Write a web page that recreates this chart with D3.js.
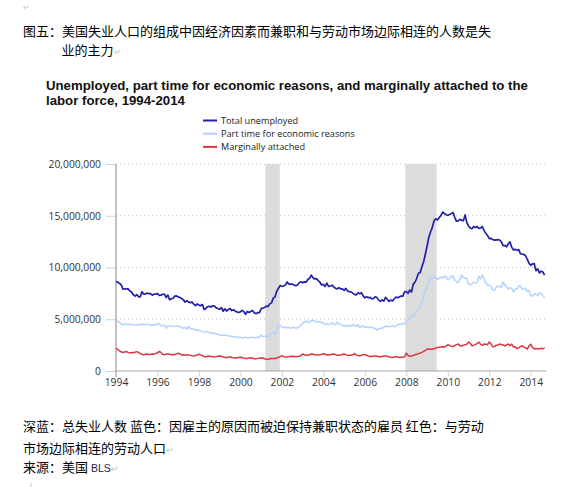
<!DOCTYPE html>
<html><head><meta charset="utf-8">
<script src="https://cdn.jsdelivr.net/npm/d3@7"></script>
<style>
html,body{margin:0;padding:0;background:#fff;}
svg{display:block;}
</style></head>
<body>
<svg id="c" width="571" height="487"></svg>
<script>
// ---------- DATA (monthly, Jan 1994 – Sep 2014, thousands of persons) ----------
const startYear = 1994;
const totalUnemployed = [
 8630,8583,8470,8331,7915,7927,7946,7933,7734,7632,7375,7230, // 1994
 7375,7187,7153,7645,7430,7427,7527,7484,7478,7328,7426,7423, // 1995
 7491,7313,7318,7415,7423,7095,7337,6882,6979,7031,7236,7253, // 1996
 7158,7102,7000,6873,6655,6799,6655,6608,6656,6454,6308,6476, // 1997
 6368,6306,6422,5941,6047,6212,6259,6179,6300,6280,6100,6032, // 1998
 5976,6111,5783,6004,5796,5951,6025,5838,5915,5778,5716,5653, // 1999
 5708,5858,5733,5481,5758,5651,5747,5853,5625,5534,5639,5634, // 2000
 6023,6089,6141,6271,6226,6484,6583,7042,7142,7694,8003,8258, // 2001
 8182,8215,8304,8599,8399,8393,8390,8304,8251,8307,8520,8640, // 2002
 8520,8618,8588,8842,8957,9266,9011,8896,8921,8732,8576,8317, // 2003
 8370,8167,8491,8170,8212,8286,8136,7990,7927,8061,7932,7934, // 2004
 7784,7980,7737,7672,7651,7524,7406,7345,7553,7453,7566,7279, // 2005
 7064,7184,7072,7120,6980,7001,7175,7091,6847,6727,6872,6762, // 2006
 7116,6927,6731,6850,6766,6979,7149,7067,7170,7237,7240,7645, // 2007
 7685,7497,7822,7637,8395,8575,8937,9438,9494,10074,10538,11286, // 2008
 12058,12898,13426,13853,14499,14707,14601,14814,15009,15352,15219,15098, // 2009
 15046,15113,15202,15325,14849,14474,14512,14648,14579,14516,15081,14348, // 2010
 14013,13820,13737,13957,13855,13962,13763,13818,13948,13594,13302,13093, // 2011
 12797,12813,12713,12646,12660,12692,12656,12471,12115,12124,12005,12298, // 2012
 12471,11950,11689,11760,11654,11751,11335,11279,11270,11136,10787,10404, // 2013
 10202,10349,10380,9702,9859,9474,9648,9568,9262                         // 2014
];
const partTimeEconomic = [
 4935,4810,4700,4540,4470,4560,4520,4480,4550,4500,4480,4470, // 1994
 4430,4500,4520,4490,4510,4470,4530,4490,4430,4470,4420,4490, // 1995
 4510,4560,4410,4370,4420,4120,4380,4360,4330,4330,4290,4340, // 1996
 4360,4280,4170,4130,4220,4040,4330,4080,4110,4010,3950,3960, // 1997
 3920,3900,3830,3780,3780,3800,3720,3660,3640,3660,3560,3560, // 1998
 3460,3430,3470,3450,3470,3380,3390,3360,3290,3320,3280,3240, // 1999
 3270,3220,3220,3250,3220,3200,3270,3240,3220,3200,3280,3240, // 2000
 3470,3330,3360,3360,3340,3480,3620,3760,3560,3990,4440,4420, // 2001
 4250,4200,4230,4190,4200,4170,4160,4250,4110,4190,4250,4400, // 2002
 4620,4720,4810,4760,4690,4870,4900,4820,4740,4790,4770,4680, // 2003
 4640,4500,4580,4520,4480,4680,4510,4470,4730,4510,4520,4390, // 2004
 4340,4380,4300,4430,4320,4470,4380,4310,4500,4210,4280,4340, // 2005
 4200,4270,4180,4260,4200,4150,4120,3950,4100,4090,4150,4200, // 2006
 4340,4290,4300,4310,4370,4280,4350,4460,4550,4480,4600,4560, // 2007
 4850,4900,5180,5200,5270,5450,5800,5900,6150,6700,7280,7870, // 2008
 7900,8550,9080,8950,9050,9030,8860,8940,9080,9000,9150,9100, // 2009
 8800,8940,9160,9180,8800,8640,8520,8860,9300,9040,8950,8950, // 2010
 8400,8330,8430,8570,8530,8560,9150,8910,9270,8890,8530,8250, // 2011
 8330,8190,7830,7800,8110,8190,8180,8080,8610,8290,8150,7920, // 2012
 8050,7980,7640,7920,7920,8190,8220,7910,7920,8010,7690,7770, // 2013
 7280,7250,7410,7460,7270,7540,7510,7280,7100                 // 2014
];
const marginallyAttached = [
 2190,2080,1950,1860,1780,1830,1880,1800,1750,1780,1760,1820, // 1994
 1870,1800,1690,1610,1560,1620,1640,1600,1590,1640,1620,1680, // 1995
 1760,1890,1790,1620,1580,1620,1660,1610,1580,1560,1600,1640, // 1996
 1720,1650,1550,1560,1520,1580,1550,1510,1470,1460,1490,1540, // 1997
 1610,1560,1480,1400,1380,1420,1440,1390,1380,1360,1390,1430, // 1998
 1450,1420,1360,1310,1300,1340,1380,1310,1290,1260,1280,1300, // 1999
 1320,1300,1240,1200,1210,1260,1280,1230,1190,1170,1220,1240, // 2000
 1280,1250,1180,1120,1130,1180,1210,1200,1200,1250,1330,1380, // 2001
 1480,1390,1350,1350,1390,1420,1410,1420,1380,1400,1420,1470, // 2002
 1650,1560,1520,1530,1560,1640,1620,1580,1560,1550,1560,1620, // 2003
 1670,1620,1550,1540,1560,1610,1640,1580,1520,1530,1550,1600, // 2004
 1640,1580,1530,1510,1520,1560,1680,1560,1500,1480,1520,1580, // 2005
 1600,1520,1450,1400,1400,1440,1460,1420,1380,1380,1400,1450, // 2006
 1440,1420,1380,1320,1310,1350,1390,1360,1300,1320,1340,1380, // 2007
 1730,1500,1420,1440,1500,1580,1620,1680,1720,1800,1900,1980, // 2008
 2100,2130,2100,2110,2150,2200,2280,2290,2330,2350,2320,2400, // 2009
 2540,2480,2400,2370,2440,2550,2600,2450,2420,2500,2540,2580, // 2010
 2800,2680,2420,2500,2550,2670,2780,2570,2470,2600,2590,2540, // 2011
 2810,2610,2350,2360,2500,2500,2600,2560,2520,2420,2510,2610, // 2012
 2440,2600,2330,2350,2160,2230,2370,2420,2300,2260,2100,2430, // 2013
 2590,2290,2140,2180,2120,2140,2200,2140,2220                 // 2014
];
const recessions = [[2001.2, 2001.9], [2007.95, 2009.46]];
const yTicks = [0, 5000000, 10000000, 15000000, 20000000];
const xTicks = [1994,1996,1998,2000,2002,2004,2006,2008,2010,2012,2014];
const seriesNames = ["Total unemployed", "Part time for economic reasons", "Marginally attached"];
const seriesColors = ["#2020a8", "#b4d2ff", "#dc3545"];
const titleLines = ["Unemployed, part time for economic reasons, and marginally attached to the", "labor force, 1994-2014"];
const headLines = ["图五：美国失业人口的组成中因经济因素而兼职和与劳动市场边际相连的人数是失", "业的主力"];
const footLines = ["深蓝：总失业人数 蓝色：因雇主的原因而被迫保持兼职状态的雇员 红色：与劳动", "市场边际相连的劳动人口"];

// ---------- CHART ----------
const svg = d3.select("#c");
const x = d3.scaleLinear().domain([1994, 2014.75]).range([116, 546.3]);
const y = d3.scaleLinear().domain([0, 20000000]).range([371, 164]);
const cjk = "'Noto Sans CJK SC','Noto Sans',sans-serif";
const grey = "#c8c8c8";

// header (Chinese)
svg.append("text").attr("x", 23).attr("y", 36).attr("font-family", cjk).attr("font-size", 13)
  .attr("fill", "#000").text(headLines[0]);
const h2 = svg.append("text").attr("x", 61.5).attr("y", 55).attr("font-family", cjk).attr("font-size", 13).attr("fill", "#000");
h2.append("tspan").text(headLines[1]);
h2.append("tspan").attr("fill", grey).attr("font-size", 9).text("↵");
svg.append("text").attr("x", 23).attr("y", 10).attr("font-family", cjk).attr("font-size", 8).attr("fill", grey).text("↵");

// title
const titleEls = titleLines.map((t, i) => svg.append("text").attr("x", 46).attr("y", 90 + i * 15)
    .attr("font-family", "'Liberation Sans',Arial,sans-serif").attr("font-weight", "bold")
    .attr("font-size", 12).attr("fill", "#111").text(t));
{
  const w = titleEls[0].node().getComputedTextLength();
  const fs = 12 * 482 / w;
  titleEls.forEach(el => el.attr("font-size", fs));
}

// legend
const lg = svg.append("g");
seriesNames.forEach((n, i) => {
  const yy = 120.5 + i * 13.2;
  lg.append("line").attr("x1", 203).attr("x2", 217).attr("y1", yy).attr("y2", yy)
    .attr("stroke", seriesColors[i]).attr("stroke-width", 2);
  lg.append("text").attr("class", "lgt").attr("x", 221).attr("y", yy + 3.5)
    .attr("font-family", "'Open Sans',sans-serif").attr("font-size", 10).attr("fill", "#222").text(n);
});
{
  const t = lg.selectAll("text.lgt").filter((d, i) => i === 1);
  const w = t.node().getComputedTextLength();
  const fs = 10 * 134 / w;
  lg.selectAll("text.lgt").attr("font-size", fs);
}

// grid lines (dotted)
svg.append("g").selectAll("line").data(yTicks.filter(d => d > 0)).join("line")
  .attr("x1", x(1994)).attr("x2", 545).attr("y1", d => y(d)).attr("y2", d => y(d))
  .attr("stroke", "#c4c4c4").attr("stroke-width", 1).attr("stroke-dasharray", "1,3");

// recession shading
svg.append("g").selectAll("rect").data(recessions).join("rect")
  .attr("x", d => x(d[0])).attr("width", d => x(d[1]) - x(d[0]))
  .attr("y", y(20000000)).attr("height", y(0) - y(20000000)).attr("fill", "#dcdcdc");

// y axis
const yAxis = d3.axisLeft(y).tickValues(yTicks).tickSize(10).tickPadding(5)
  .tickFormat(d3.format(","));
const ya = svg.append("g").attr("transform", `translate(${x(1994)},0)`).call(yAxis);
ya.select(".domain").remove();
ya.selectAll(".tick line").attr("stroke", "#c9d5e6");
ya.selectAll(".tick text").attr("font-family", "'Open Sans',sans-serif").attr("font-size", 10.3).attr("fill", "#333");
svg.append("line").attr("x1", x(1994)).attr("x2", x(1994)).attr("y1", y(20000000)).attr("y2", y(0) + 6)
  .attr("stroke", "#9a9a9a").attr("stroke-width", 1.2);

// x axis
const xAxis = d3.axisBottom(x).tickValues(xTicks).tickSize(5).tickPadding(3).tickFormat(d3.format("d"));
const xa = svg.append("g").attr("transform", `translate(0,${y(0)})`).call(xAxis);
xa.select(".domain").remove();
xa.selectAll(".tick line").attr("stroke", "#c9d5e6");
xa.selectAll(".tick text").attr("font-family", "'Open Sans',sans-serif").attr("font-size", 10.3).attr("fill", "#333");
svg.append("line").attr("x1", x(1994)).attr("x2", x(2014.75)).attr("y1", y(0)).attr("y2", y(0))
  .attr("stroke", "#a8a8a8").attr("stroke-width", 1.2);

// lines
const line = d3.line().x((d, i) => x(startYear + i / 12)).y(d => y(d * 1000));
[[marginallyAttached, 2], [partTimeEconomic, 1], [totalUnemployed, 0]].forEach(([data, ci]) => {
  svg.append("path").datum(data).attr("d", line).attr("fill", "none")
    .attr("stroke", seriesColors[ci]).attr("stroke-width", ci === 0 ? 1.7 : 1.5)
    .attr("stroke-linejoin", "round");
});

// footer (Chinese)
svg.append("text").attr("x", 23).attr("y", 431).attr("font-family", cjk).attr("font-size", 13)
  .attr("fill", "#000").text(footLines[0]);
const f2 = svg.append("text").attr("x", 23).attr("y", 453).attr("font-family", cjk).attr("font-size", 13).attr("fill", "#000");
f2.append("tspan").text(footLines[1]);
f2.append("tspan").attr("fill", grey).attr("font-size", 9).text("↵");
const f3 = svg.append("text").attr("x", 23).attr("y", 472).attr("font-family", cjk).attr("font-size", 13).attr("fill", "#000");
f3.append("tspan").text("来源：美国 ");
f3.append("tspan").attr("font-family", "'Liberation Sans',sans-serif").attr("font-size", 10.5).attr("fill", "#1c2250").text("BLS");
f3.append("tspan").attr("fill", grey).attr("font-size", 9).text("↵");
// paragraph mark stub at bottom edge
svg.append("line").attr("x1", 31).attr("x2", 31).attr("y1", 483).attr("y2", 487).attr("stroke", grey).attr("stroke-width", 1);
</script>
</body></html>
